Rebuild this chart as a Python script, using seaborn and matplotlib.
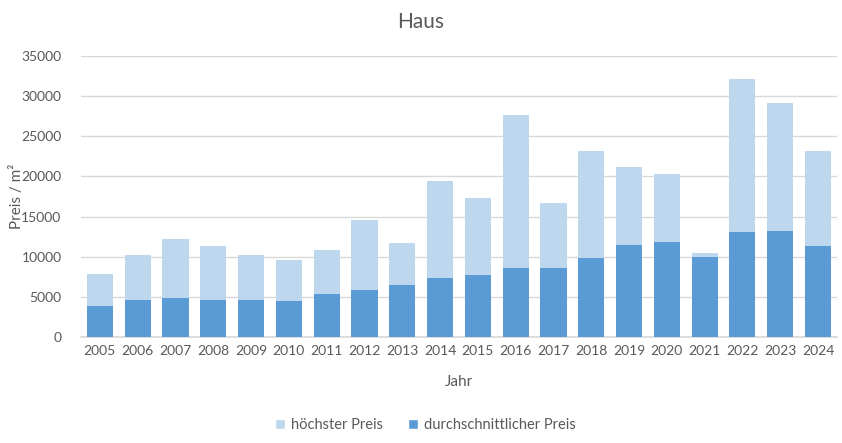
import matplotlib
matplotlib.use("Agg")
import matplotlib.pyplot as plt
import seaborn as sns
import pandas as pd
from matplotlib.patches import Patch

years = [str(y) for y in range(2005, 2025)]
hoechster = [7800, 10200, 12200, 11300, 10200, 9600, 10800, 14600, 11700, 19400,
             17300, 27600, 16700, 23200, 21200, 20300, 10400, 32100, 29100, 23200]
durchschnitt = [3900, 4600, 4900, 4600, 4600, 4500, 5300, 5900, 6500, 7400,
                7700, 8600, 8600, 9800, 11400, 11800, 10000, 13100, 13200, 11300]

light = "#BDD7EE"
dark = "#5B9BD5"
txt = "#595959"

sns.set_theme(style="white")
plt.rcParams['font.family'] = ['Lato', 'DejaVu Sans']

df = pd.DataFrame({"Jahr": years, "max": hoechster, "avg": durchschnitt})

fig = plt.figure(figsize=(8.42, 4.43), dpi=100)
ax = fig.add_axes([0.0962, 0.2393, 0.8978, 0.6343])

sns.barplot(data=df, x="Jahr", y="max", color=light, width=0.69, ax=ax,
            saturation=1, zorder=2, linewidth=0)
sns.barplot(data=df, x="Jahr", y="avg", color=dark, width=0.69, ax=ax,
            saturation=1, zorder=3, linewidth=0)

ax.set_ylim(0, 35000)
ax.set_xlim(-0.5, len(years) - 0.5)
ax.set_yticks(range(0, 35001, 5000))
ax.yaxis.grid(True, color="#D9D9D9", linewidth=1, zorder=0)
ax.set_axisbelow(True)
for s in ["top", "right", "left"]:
    ax.spines[s].set_visible(False)
ax.spines["bottom"].set_color("#D9D9D9")
ax.tick_params(axis="both", length=0, labelsize=10, colors=txt, pad=6)
ax.tick_params(axis="y", pad=14)

ax.set_xlabel("Jahr", fontsize=11, color=txt, labelpad=13)
ax.set_ylabel("Preis / m²", fontsize=11, color=txt)
ax.yaxis.set_label_coords(-0.076, 0.5)
fig.text(0.5, 0.95, "Haus", ha="center", va="center", fontsize=15, color=txt)

handles = [Patch(facecolor=light, label="höchster Preis"),
           Patch(facecolor=dark, label="durchschnittlicher Preis")]
fig.legend(handles=handles, loc="center", bbox_to_anchor=(0.505, 0.04), ncol=2,
           frameon=False, fontsize=10.5, labelcolor=txt, handlelength=0.7,
           handleheight=0.7, handletextpad=0.4, columnspacing=1.7)

fig.savefig("out.png", dpi=100, facecolor="white")
